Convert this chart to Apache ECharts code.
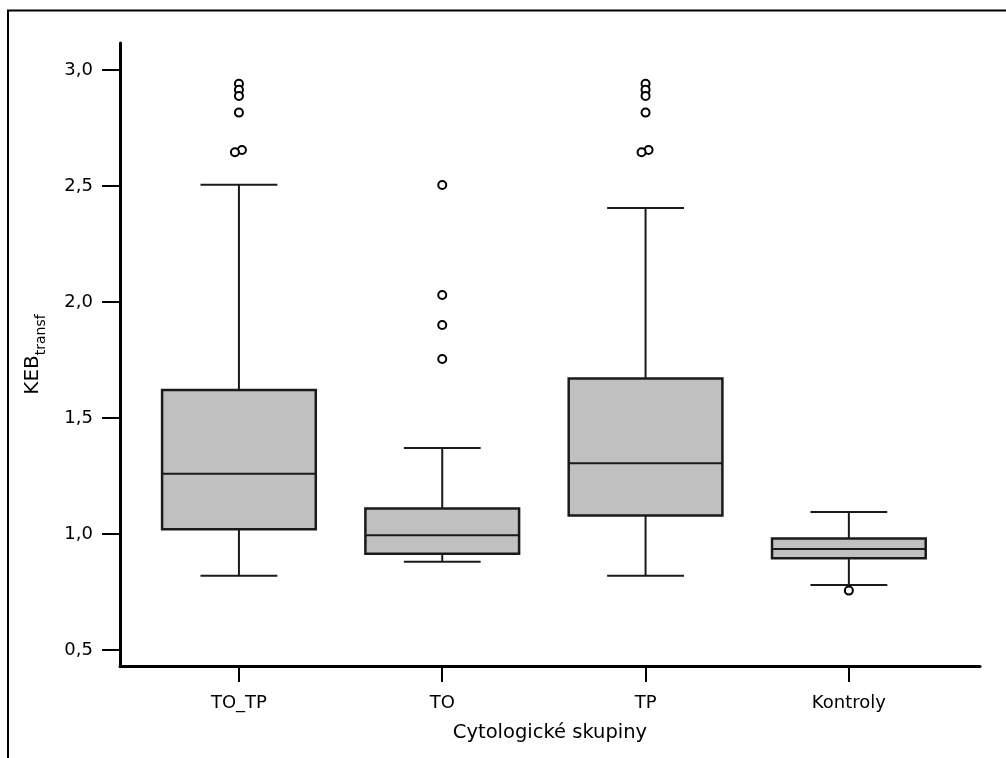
<!DOCTYPE html>
<html>
<head>
<meta charset="utf-8">
<script src="https://cdn.jsdelivr.net/npm/echarts@6/dist/echarts.min.js"></script>
<style>
html,body{margin:0;padding:0;background:#fff;}
#chart{width:1006px;height:758px;}
</style>
</head>
<body>
<div id="chart"></div>
<script>
const categories = ['TO_TP', 'TO', 'TP', 'Kontroly'];
const groupPos = [1, 2, 3, 4];
const whiskerLow = [0.82, 0.88, 0.82, 0.78];
const q1 = [1.02, 0.915, 1.08, 0.895];
const median = [1.26, 0.995, 1.305, 0.935];
const q3 = [1.62, 1.11, 1.67, 0.98];
const whiskerHigh = [2.505, 1.37, 2.405, 1.095];
const outlierGroup = [1, 1, 1, 1, 1, 1, 2, 2, 2, 2, 3, 3, 3, 3, 3, 3, 4];
const outlierValue = [2.94, 2.914, 2.888, 2.816, 2.655, 2.645,
                      2.504, 2.03, 1.901, 1.754,
                      2.94, 2.914, 2.888, 2.816, 2.655, 2.645,
                      0.756];
const yTicks = [0.5, 1.0, 1.5, 2.0, 2.5, 3.0];
const xTitle = 'Cytologické skupiny';

const FONT = 'DejaVu Sans';

const boxData = groupPos.map((g, i) => [g, whiskerLow[i], q1[i], median[i], q3[i], whiskerHigh[i]]);

// dodge nearly coincident outliers horizontally
const outlierData = outlierValue.map((v, i) => {
  const g = outlierGroup[i];
  let off = 0;
  for (let j = 0; j < outlierValue.length; j++) {
    if (j !== i && outlierGroup[j] === g && Math.abs(outlierValue[j] - v) < 0.015) {
      off = v < outlierValue[j] ? -4 : 3;
    }
  }
  return { value: [g, v], symbolOffset: [off, 0] };
});

const chart = echarts.init(document.getElementById('chart'), null, { renderer: 'canvas' });
const lineStyle = { stroke: '#1a1a1a', lineWidth: 2 };

chart.setOption({
  backgroundColor: '#fff',
  animation: false,
  graphic: [{
    type: 'rect',
    shape: { x: 8, y: 10.5, width: 1200, height: 900 },
    style: { fill: 'none', stroke: '#000', lineWidth: 2 },
    silent: true
  }],
  grid: { left: 120, right: 26, top: 43, bottom: 92 },
  xAxis: {
    type: 'value',
    min: 0.415,
    max: 4.645,
    splitLine: { show: false },
    axisLine: { show: true, onZero: false, lineStyle: { color: '#000', width: 3 } },
    axisTick: { show: true, customValues: groupPos, length: 16, lineStyle: { color: '#000', width: 2 } },
    axisLabel: {
      customValues: groupPos,
      formatter: v => categories[Math.round(v) - 1],
      margin: 28,
      color: '#000',
      fontFamily: FONT,
      fontSize: 18
    },
    name: xTitle,
    nameLocation: 'middle',
    nameGap: 57,
    nameTextStyle: { color: '#000', fontFamily: FONT, fontSize: 19.5 }
  },
  yAxis: {
    type: 'value',
    min: 0.431,
    max: 3.116,
    splitLine: { show: false },
    axisLine: { show: true, onZero: false, lineStyle: { color: '#000', width: 3 } },
    axisTick: { show: true, customValues: yTicks, length: 18, lineStyle: { color: '#000', width: 2 } },
    axisLabel: {
      customValues: yTicks,
      formatter: v => v.toFixed(1).replace('.', ','),
      margin: 27,
      color: '#000',
      fontFamily: FONT,
      fontSize: 18
    },
    name: '{k|KEB}{s|transf}',
    nameLocation: 'middle',
    nameRotate: 90,
    nameGap: 72,
    nameTextStyle: {
      color: '#000',
      fontFamily: FONT,
      rich: {
        k: { fontSize: 20, fontFamily: FONT, color: '#000', lineHeight: 30, verticalAlign: 'middle' },
        s: { fontSize: 14, fontFamily: FONT, color: '#000', verticalAlign: 'bottom' }
      }
    }
  },
  series: [{
    type: 'custom',
    data: boxData,
    encode: { x: 0, y: [1, 2, 3, 4, 5] },
    z: 2,
    renderItem: function (params, api) {
      const x = api.value(0);
      const lo = api.coord([x, api.value(1)]);
      const b1 = api.coord([x, api.value(2)]);
      const md = api.coord([x, api.value(3)]);
      const b3 = api.coord([x, api.value(4)]);
      const hi = api.coord([x, api.value(5)]);
      const unit = api.size([1, 0])[0];
      const hw = unit * 0.378;
      const cw = hw / 2;
      const cx = lo[0];
      return {
        type: 'group',
        children: [
          { type: 'line', shape: { x1: cx, y1: lo[1], x2: cx, y2: b1[1] }, style: lineStyle },
          { type: 'line', shape: { x1: cx, y1: hi[1], x2: cx, y2: b3[1] }, style: lineStyle },
          { type: 'line', shape: { x1: cx - cw, y1: lo[1], x2: cx + cw, y2: lo[1] }, style: lineStyle },
          { type: 'line', shape: { x1: cx - cw, y1: hi[1], x2: cx + cw, y2: hi[1] }, style: lineStyle },
          { type: 'rect', shape: { x: cx - hw, y: b3[1], width: 2 * hw, height: b1[1] - b3[1] },
            style: { fill: '#c0c0c0', stroke: '#1a1a1a', lineWidth: 2.5 } },
          { type: 'line', shape: { x1: cx - hw, y1: md[1], x2: cx + hw, y2: md[1] }, style: lineStyle }
        ]
      };
    }
  }, {
    type: 'scatter',
    data: outlierData,
    symbol: 'circle',
    symbolSize: 8,
    z: 3,
    itemStyle: { color: '#fff', borderColor: '#000', borderWidth: 2, opacity: 1 }
  }]
});
</script>
</body>
</html>
